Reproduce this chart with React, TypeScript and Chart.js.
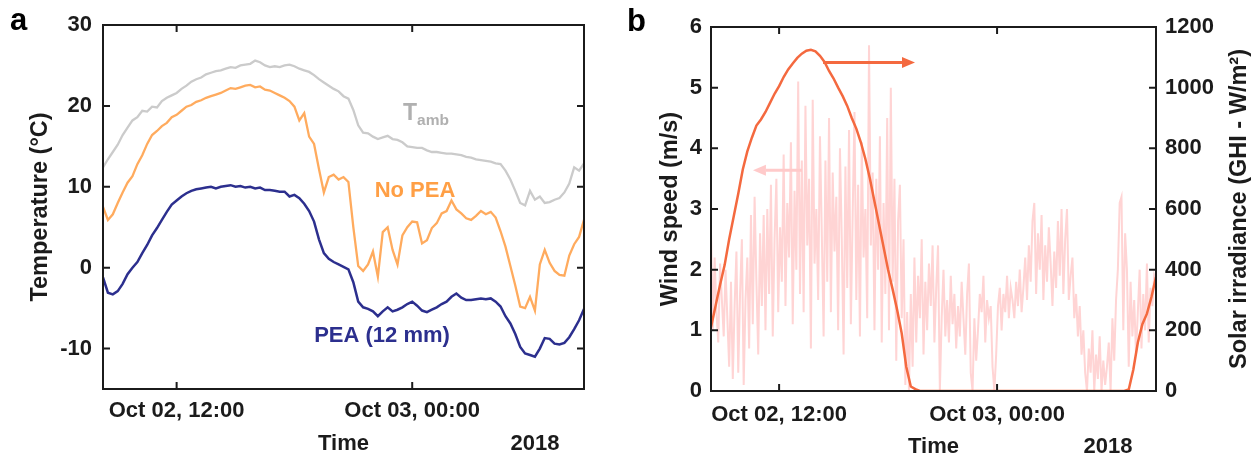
import React, { useEffect, useRef } from 'react';
import { Chart, registerables } from 'chart.js';

Chart.register(...registerables);

const FONT = '"Liberation Sans", Arial, Helvetica, sans-serif';
const INK = '#1b1b1b';
const GRAY_LINE = '#cbcbcb';
const GRAY_TEXT = '#b0b0b0';
const ORANGE_LINE = '#ffab5e';
const ORANGE_TEXT = '#ff9f45';
const NAVY = '#2c2f8e';
const SOLAR_COLOR = '#f4693f';
const WIND_COLOR = '#ffd4d4';
const WIND_ARROW = '#ffcaca';

// ---- shared time axis (hours since Oct 02, 00:00) ----
const X_MIN = 8.25;
const X_MAX = 32.75;
const X_TICKS = [12, 24];
const X_TICK_LABELS = ['Oct 02, 12:00', 'Oct 03, 00:00'];
const X_TITLE = 'Time';
const YEAR_LABEL = '2018';

// ---- panel a: temperatures (°C), sampled every 0.25 h from 08:15 ----
const TEMP_START = 8.25;
const TEMP_STEP = 0.25;
const T_AMB = [
  12.4, 13.4, 14.3, 15.2, 16.4, 17.3, 18.2, 18.6, 19.4, 19.3,
  19.9, 19.8, 20.6, 21.0, 21.3, 21.6, 22.1, 22.5, 23.0, 23.3,
  23.5, 23.9, 24.1, 24.3, 24.4, 24.6, 24.8, 24.7, 25.0, 25.1,
  25.2, 25.6, 25.4, 25.0, 24.8, 24.9, 24.8, 25.0, 25.1, 24.9,
  24.6, 24.4, 24.2, 23.8, 23.3, 22.9, 22.5, 22.1, 21.8, 21.2,
  20.9, 19.5, 17.6, 16.7, 16.6, 16.2, 15.9, 16.1, 16.3, 15.9,
  15.8, 15.5, 15.0, 14.9, 14.8, 14.8, 14.5, 14.3, 14.3, 14.2,
  14.1, 14.1, 14.0, 13.9, 13.7, 13.6, 13.4, 13.3, 13.2, 13.1,
  12.9, 12.8, 12.0, 10.9, 9.5, 8.0, 7.7, 9.5, 8.4, 8.8,
  8.0, 8.1, 8.4, 8.6, 9.3, 10.4, 12.4, 12.0, 12.9,
];
const NO_PEA = [
  7.5, 5.9, 6.6, 8.0, 9.3, 10.5, 11.3, 12.8, 13.9, 15.3,
  16.4, 16.9, 17.5, 17.9, 18.6, 18.9, 19.4, 19.9, 20.1, 20.5,
  20.7, 21.0, 21.2, 21.4, 21.6, 21.9, 22.2, 22.1, 22.3, 22.5,
  22.6, 22.3, 22.4, 22.0, 21.9, 21.6, 21.3, 21.0, 20.6, 19.9,
  18.2, 19.1, 16.2, 15.3, 12.2, 9.3, 11.2, 11.5, 10.9, 11.2,
  10.6, 5.0, 0.2, -0.4, 0.4, 2.0, -1.1, 4.4, 5.0, 2.2,
  0.4, 4.0, 5.0, 5.7, 5.6, 3.0, 3.4, 4.9, 5.5, 6.7,
  7.0, 8.3, 7.2, 6.7, 6.1, 5.9, 6.4, 7.0, 6.6, 6.9,
  6.2, 4.5, 2.6, 0.2, -2.2, -4.8, -5.0, -3.6, -5.3, 0.4,
  2.2, 0.6, -0.4, -0.9, -1.0, 1.5, 2.9, 3.8, 5.9,
];
const PEA_12 = [
  -1.2, -3.1, -3.3, -2.9, -2.0, -0.8, 0.0, 0.7, 1.8, 2.8,
  4.0, 4.9, 5.9, 6.9, 7.8, 8.3, 8.8, 9.2, 9.5, 9.7,
  9.8, 9.9, 10.0, 9.8, 10.0, 10.1, 10.2, 10.0, 10.1, 9.9,
  10.0, 9.8, 9.9, 9.6, 9.6, 9.5, 9.4, 9.4, 8.8, 9.0,
  8.6, 7.9, 7.0, 5.7, 3.5, 1.8, 1.1, 0.7, 0.4, 0.1,
  -0.2, -1.8, -4.2, -4.9, -5.1, -5.4, -6.0, -5.4, -4.9, -5.4,
  -5.2, -4.9, -4.5, -4.2, -4.7, -5.3, -5.5, -5.2, -4.9, -4.5,
  -4.2, -3.6, -3.2, -3.7, -4.0, -4.0, -3.9, -3.8, -3.9, -3.8,
  -4.2, -4.8, -6.0, -6.9, -8.2, -9.8, -10.6, -10.8, -11.0, -10.0,
  -8.7, -8.8, -9.4, -9.5, -9.3, -8.6, -7.6, -6.5, -5.1,
];
const TEMP_MIN = -15;
const TEMP_MAX = 30;
const TEMP_TICKS = [-10, 0, 10, 20, 30];
const TEMP_TITLE = 'Temperature (°C)';

// ---- panel b: solar irradiance (W/m²) every 0.25 h, wind speed (m/s) every 0.1 h ----
const SOLAR_START = 8.25;
const SOLAR_STEP = 0.25;
const SOLAR = [
  210, 280, 350, 415, 500, 575, 650, 730, 790, 835,
  875, 895, 920, 950, 980, 1005, 1035, 1060, 1080, 1098,
  1112, 1122, 1125, 1120, 1105, 1085, 1055, 1030, 1000, 972,
  940, 900, 865, 820, 765, 700, 625, 550, 475, 400,
  335, 267, 190, 80, 15, 6, 0, 0, 0, 0,
  0, 0, 0, 0, 0, 0, 0, 0, 0, 0,
  0, 0, 0, 0, 0, 0, 0, 0, 0, 0,
  0, 0, 0, 0, 0, 0, 0, 0, 0, 0,
  0, 0, 0, 0, 0, 0, 0, 0, 0, 0,
  0, 0, 5, 70, 160, 220, 255, 310, 376,
];
const WIND_START = 8.25;
const WIND_STEP = 0.1;
const WIND = [
  2.6, 1.0, 2.2, 1.3, 0.8, 2.1, 1.5, 0.9, 2.0, 1.2,
  0.4, 1.8, 0.2, 1.4, 2.3, 0.3, 1.6, 2.5, 0.1, 1.5,
  2.2, 0.7, 2.9, 1.1, 3.2, 1.8, 0.6, 2.6, 1.4, 2.9,
  1.0, 3.0, 1.6, 3.4, 0.9, 2.5, 3.5, 1.3, 2.7, 1.8,
  3.9, 1.4, 3.1, 2.2, 4.1, 1.1, 3.3, 2.0, 5.1, 1.6,
  3.8, 1.3, 4.7, 2.4, 3.5, 0.7, 4.8, 2.1, 3.0, 1.5,
  4.2, 2.6, 0.9, 3.8, 1.8, 4.5, 1.3, 3.6, 2.3, 3.2,
  1.0, 4.0, 2.5, 0.6, 3.7, 1.7, 4.3, 1.1, 2.9, 4.6,
  1.5, 3.4, 0.9, 4.1, 2.2, 3.0, 1.2, 5.7, 2.4, 3.6,
  1.0, 3.5, 2.0, 4.2, 0.8, 3.1, 1.6, 4.5, 1.0, 5.0,
  1.8, 3.5, 0.5, 2.8, 3.4, 1.2, 2.5, 0.1, 1.3, 0.0,
  1.6, 0.4, 2.2, 0.8, 1.9, 1.2, 2.5, 0.6, 1.8, 1.0,
  2.1, 1.4, 2.4, 0.8, 1.7, 2.4, 0.0, 1.2, 2.0, 0.9,
  1.5, 0.8, 1.9, 1.1, 1.6, 0.7, 1.4, 0.9, 1.8, 1.2,
  0.6, 1.6, 2.1, 0.3, 0.0, 1.2, 0.5, 1.0, 1.6, 1.3,
  1.9, 0.8, 1.5, 1.2, 1.4, 0.4, 0.0, 0.6, 1.4, 1.7,
  1.0, 1.6, 1.3, 1.9, 1.2, 1.7, 1.5, 1.2, 1.8, 1.4,
  2.0, 1.3, 1.7, 2.2, 1.5, 2.4, 1.8, 2.8, 3.1, 1.6,
  2.6, 2.0, 2.9, 1.5, 2.4, 1.8, 2.7, 2.1, 1.4, 2.3,
  1.7, 2.8, 1.9, 3.0, 1.6, 2.5, 3.0, 1.5, 1.9, 2.2,
  1.2, 1.6, 0.9, 1.4, 0.6, 1.0, 0.3, 0.0, 0.7, 0.3,
  1.0, 0.0, 0.6, 0.2, 0.9, 0.0, 0.5, 0.1, 0.4, 0.8,
  0.0, 1.2, 0.5, 1.5, 2.0, 3.1, 3.2, 1.0, 2.6, 2.0,
  0.4, 1.8, 0.9, 1.5, 0.6, 1.3, 2.0, 0.7, 1.6, 1.0,
  2.1, 0.8, 1.7, 1.4, 1.9, 1.8,
];
const WIND_MIN = 0;
const WIND_MAX = 6;
const WIND_TICKS = [0, 1, 2, 3, 4, 5, 6];
const GHI_MIN = 0;
const GHI_MAX = 1200;
const GHI_TICKS = [0, 200, 400, 600, 800, 1000, 1200];
const WIND_TITLE = 'Wind speed (m/s)';
const GHI_TITLE = 'Solar irradiance (GHI - W/m²)';

// ---- annotations (data coordinates) ----
const TAMB_LABEL = { x: 23.53, y: 18.3 };
const NOPEA_LABEL = { x: 24.14, y: 9.5, text: 'No PEA' };
const PEA_LABEL = { x: 22.46, y: -8.45, text: 'PEA (12 mm)' };
const SOLAR_ARROW = { from: 14.42, to: 19.48, y: 1083 };
const WIND_ARROW_POS = { from: 13.26, to: 10.56, y: 3.64 };

const TICK_FONT = { family: FONT, size: 22, weight: 'bold' as const };

function series(values: number[], start: number, step: number) {
  return values.map((v, i) => ({ x: start + i * step, y: v }));
}

function drawText(ctx: any, str: string, x: number, y: number, size: number, color: string,
  align = 'center', baseline = 'alphabetic', rot = 0) {
  ctx.save();
  ctx.translate(x, y);
  if (rot) ctx.rotate(rot);
  ctx.font = `bold ${size}px ${FONT}`;
  ctx.fillStyle = color;
  ctx.textAlign = align;
  ctx.textBaseline = baseline;
  ctx.fillText(str, 0, 0);
  ctx.restore();
}

function drawArrow(ctx: any, x0: number, x1: number, y: number, color: string) {
  const dir = Math.sign(x1 - x0);
  const head = 13;
  const hw = 5.5;
  ctx.save();
  ctx.strokeStyle = color;
  ctx.fillStyle = color;
  ctx.lineWidth = 3;
  ctx.beginPath();
  ctx.moveTo(x0, y);
  ctx.lineTo(x1 - dir * head, y);
  ctx.stroke();
  ctx.beginPath();
  ctx.moveTo(x1, y);
  ctx.lineTo(x1 - dir * head, y - hw);
  ctx.lineTo(x1 - dir * head, y + hw);
  ctx.closePath();
  ctx.fill();
  ctx.restore();
}

function drawFrame(ctx: any, ca: any, xs: number[], left: number[], right: number[]) {
  const TL = 7;
  ctx.save();
  ctx.strokeStyle = INK;
  ctx.lineWidth = 2;
  ctx.beginPath();
  for (const px of xs) {
    ctx.moveTo(px, ca.bottom); ctx.lineTo(px, ca.bottom - TL);
    ctx.moveTo(px, ca.top); ctx.lineTo(px, ca.top + TL);
  }
  for (const py of left) { ctx.moveTo(ca.left, py); ctx.lineTo(ca.left + TL, py); }
  for (const py of right) { ctx.moveTo(ca.right, py); ctx.lineTo(ca.right - TL, py); }
  ctx.stroke();
  ctx.strokeRect(ca.left, ca.top, ca.right - ca.left, ca.bottom - ca.top);
  ctx.restore();
}

function xScale(height: number, pad: number) {
  return {
    type: 'linear',
    min: X_MIN,
    max: X_MAX,
    grid: { display: false, drawTicks: false },
    border: { display: false },
    afterBuildTicks: (s: any) => { s.ticks = X_TICKS.map((v) => ({ value: v })); },
    afterFit: (s: any) => { s.height = height; },
    ticks: {
      autoSkip: false, maxRotation: 0, minRotation: 0, padding: pad, color: INK, font: TICK_FONT,
      callback: (v: any) => X_TICK_LABELS[X_TICKS.indexOf(Number(v))] ?? '',
    },
  };
}

function yScale(min: number, max: number, ticks: number[], width: number, pad: number, position: string) {
  return {
    type: 'linear',
    position,
    min,
    max,
    grid: { display: false, drawTicks: false },
    border: { display: false },
    afterBuildTicks: (s: any) => { s.ticks = ticks.map((v) => ({ value: v })); },
    afterFit: (s: any) => { s.width = width; },
    ticks: { padding: pad, color: INK, font: TICK_FONT, callback: (v: any) => String(v) },
  };
}

const panelAPlugin = {
  id: 'panelADecor',
  afterDatasetsDraw(chart: any) {
    const { ctx, chartArea: ca, scales } = chart;
    const { x, y } = scales;
    const yPx = TEMP_TICKS.map((v) => y.getPixelForValue(v));
    drawFrame(ctx, ca, X_TICKS.map((v) => x.getPixelForValue(v)), yPx, yPx);
    drawText(ctx, 'a', 10, 30, 31, '#000', 'left');
    drawText(ctx, TEMP_TITLE, ca.left - 62, (ca.top + ca.bottom) / 2, 23.5, INK, 'center', 'middle', -Math.PI / 2);
    drawText(ctx, X_TITLE, (ca.left + ca.right) / 2, ca.bottom + 61, 22, INK);
    drawText(ctx, YEAR_LABEL, ca.right - 49, ca.bottom + 61, 22, INK);
    // series labels
    const tx = x.getPixelForValue(TAMB_LABEL.x);
    const ty = y.getPixelForValue(TAMB_LABEL.y);
    drawText(ctx, 'T', tx, ty, 23, GRAY_TEXT, 'left');
    ctx.save();
    ctx.font = `bold 23px ${FONT}`;
    const tw = ctx.measureText('T').width;
    ctx.restore();
    drawText(ctx, 'amb', tx + tw, ty + 5, 15.5, GRAY_TEXT, 'left');
    drawText(ctx, NOPEA_LABEL.text, x.getPixelForValue(NOPEA_LABEL.x), y.getPixelForValue(NOPEA_LABEL.y), 22, ORANGE_TEXT, 'center', 'middle');
    drawText(ctx, PEA_LABEL.text, x.getPixelForValue(PEA_LABEL.x), y.getPixelForValue(PEA_LABEL.y), 22, NAVY, 'center', 'middle');
  },
};

const panelBPlugin = {
  id: 'panelBDecor',
  afterDatasetsDraw(chart: any) {
    const { ctx, chartArea: ca, scales } = chart;
    const { x, y, y2 } = scales;
    drawFrame(ctx, ca, X_TICKS.map((v) => x.getPixelForValue(v)),
      WIND_TICKS.map((v) => y.getPixelForValue(v)), GHI_TICKS.map((v) => y2.getPixelForValue(v)));
    drawText(ctx, 'b', 27, 31, 31, '#000', 'left');
    drawText(ctx, WIND_TITLE, ca.left - 40, (ca.top + ca.bottom) / 2, 23.5, INK, 'center', 'middle', -Math.PI / 2);
    drawText(ctx, GHI_TITLE, ca.right + 84, (ca.top + ca.bottom) / 2, 23.5, INK, 'center', 'middle', -Math.PI / 2);
    drawText(ctx, X_TITLE, (ca.left + ca.right) / 2, ca.bottom + 62, 22, INK);
    drawText(ctx, YEAR_LABEL, ca.right - 48, ca.bottom + 62, 22, INK);
    drawArrow(ctx, x.getPixelForValue(SOLAR_ARROW.from), x.getPixelForValue(SOLAR_ARROW.to), y2.getPixelForValue(SOLAR_ARROW.y), SOLAR_COLOR);
    drawArrow(ctx, x.getPixelForValue(WIND_ARROW_POS.from), x.getPixelForValue(WIND_ARROW_POS.to), y.getPixelForValue(WIND_ARROW_POS.y), WIND_ARROW);
  },
};

export default function App() {
  const refA = useRef<HTMLCanvasElement | null>(null);
  const refB = useRef<HTMLCanvasElement | null>(null);

  useEffect(() => {
    Chart.defaults.font.family = FONT;
    const common = {
      responsive: false,
      animation: false,
      events: [],
      devicePixelRatio: 1,
      plugins: { legend: { display: false }, tooltip: { enabled: false }, title: { display: false } },
    };
    const chartA = new Chart(refA.current as HTMLCanvasElement, {
      type: 'line',
      data: {
        datasets: [
          { data: series(PEA_12, TEMP_START, TEMP_STEP), borderColor: NAVY, borderWidth: 2.5, pointRadius: 0 },
          { data: series(NO_PEA, TEMP_START, TEMP_STEP), borderColor: ORANGE_LINE, borderWidth: 2.3, pointRadius: 0 },
          { data: series(T_AMB, TEMP_START, TEMP_STEP), borderColor: GRAY_LINE, borderWidth: 2.3, pointRadius: 0 },
        ],
      },
      options: {
        ...common,
        layout: { padding: { top: 25, right: 16, left: 0, bottom: 0 } },
        scales: {
          x: xScale(68, 9),
          y: yScale(TEMP_MIN, TEMP_MAX, TEMP_TICKS, 103, 11, 'left'),
        },
      } as any,
      plugins: [panelAPlugin],
    });
    const chartB = new Chart(refB.current as HTMLCanvasElement, {
      type: 'line',
      data: {
        datasets: [
          { data: series(SOLAR, SOLAR_START, SOLAR_STEP), yAxisID: 'y2', borderColor: SOLAR_COLOR, borderWidth: 2.5, pointRadius: 0 },
          { data: series(WIND, WIND_START, WIND_STEP), yAxisID: 'y', borderColor: WIND_COLOR, borderWidth: 2, pointRadius: 0 },
        ],
      },
      options: {
        ...common,
        layout: { padding: { top: 27, right: 0, left: 0, bottom: 0 } },
        scales: {
          x: xScale(66, 11),
          y: yScale(WIND_MIN, WIND_MAX, WIND_TICKS, 111, 9, 'left'),
          y2: yScale(GHI_MIN, GHI_MAX, GHI_TICKS, 99, 9, 'right'),
        },
      } as any,
      plugins: [panelBPlugin],
    });
    return () => { chartA.destroy(); chartB.destroy(); };
  }, []);

  return (
    <div style={{ position: 'absolute', left: 0, top: 0, width: 1255, height: 457, background: '#fff' }}>
      <canvas ref={refA} width={600} height={457} style={{ position: 'absolute', left: 0, top: 0, width: 600, height: 457 }} />
      <canvas ref={refB} width={655} height={457} style={{ position: 'absolute', left: 600, top: 0, width: 655, height: 457 }} />
    </div>
  );
}
